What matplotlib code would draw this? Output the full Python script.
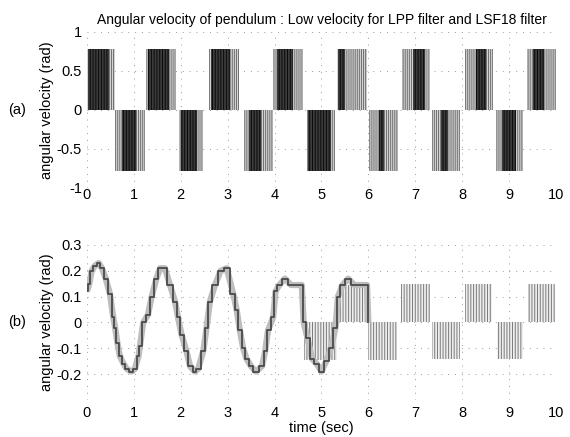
import matplotlib
matplotlib.use("Agg")
import matplotlib.pyplot as plt
import numpy as np

plt.rcParams['font.family'] = ['Liberation Sans', 'DejaVu Sans']
plt.rcParams['hatch.linewidth'] = 0.7

# (a) blocks of the square wave: start, end, level, dark core start/end
top_start = [0.00, 0.59, 1.26, 1.96, 2.60, 3.34, 3.97, 4.69, 5.33, 6.01, 6.72, 7.36, 8.06, 8.72, 9.38]
top_end = [0.59, 1.23, 1.90, 2.48, 3.24, 3.96, 4.60, 5.29, 5.97, 6.63, 7.31, 7.95, 8.66, 9.30, 10.00]
top_level = [0.78, -0.78, 0.78, -0.78, 0.78, -0.78, 0.78, -0.78, 0.78, -0.78, 0.78, -0.78, 0.78, -0.78, 0.78]
core_start = [0.02, 0.75, 1.30, 2.00, 2.65, 3.45, 4.05, 4.72, 5.35, 6.22, 6.95, 7.55, 8.30, 8.85, 9.50]
core_end = [0.48, 1.05, 1.75, 2.35, 3.05, 3.70, 4.40, 5.20, 5.50, 6.33, 7.20, 7.70, 8.50, 9.15, 9.75]

# (b) smoothed curve
curve_t = [0.0, 0.05, 0.1, 0.17, 0.25, 0.32, 0.4, 0.49, 0.56, 0.6, 0.65, 0.70, 0.78, 0.85, 0.95,
           1.02, 1.1, 1.13, 1.2, 1.3, 1.38, 1.48, 1.56, 1.66, 1.77, 1.88, 1.94, 2.02, 2.12, 2.2,
           2.3, 2.37, 2.48, 2.55, 2.62, 2.73, 2.85, 2.98, 3.12, 3.19, 3.26, 3.33, 3.4, 3.5, 3.6,
           3.73, 3.8, 3.86, 3.97, 4.02, 4.1, 4.22, 4.35, 4.58, 4.62, 4.7, 4.8, 4.9, 5.0, 5.1,
           5.2, 5.3, 5.35, 5.45, 5.57, 5.7, 5.97, 6.0]
curve_v = [0.12, 0.15, 0.20, 0.22, 0.23, 0.21, 0.17, 0.11, 0.02, -0.02, -0.08, -0.13, -0.16, -0.18, -0.19,
           -0.18, -0.13, -0.09, 0.0, 0.03, 0.10, 0.17, 0.21, 0.21, 0.145, 0.08, 0.02, -0.05, -0.11, -0.17,
           -0.19, -0.18, -0.11, -0.02, 0.08, 0.145, 0.20, 0.21, 0.11, 0.05, -0.03, -0.10, -0.14, -0.17, -0.19,
           -0.17, -0.11, -0.03, 0.02, 0.12, 0.145, 0.17, 0.145, 0.145, 0.0, -0.06, -0.14, -0.16, -0.19, -0.15,
           -0.10, -0.02, 0.10, 0.145, 0.17, 0.145, 0.145, 0.0]

# (b) later blocks of vertical lines
bot_start = [4.62, 5.35, 6.00, 6.70, 7.35, 8.06, 8.74, 9.40]
bot_end = [5.33, 5.97, 6.62, 7.31, 7.95, 8.63, 9.30, 9.98]
bot_level = [-0.145, 0.145, -0.145, 0.15, -0.14, 0.15, -0.14, 0.15]

fig = plt.figure(figsize=(5.7, 4.37), dpi=100)
ax1 = fig.add_axes([0.1526, 0.5698, 0.8228, 0.357])
ax2 = fig.add_axes([0.1526, 0.0847, 0.8228, 0.3547])

w = np.array(top_end) - np.array(top_start)
ax1.bar(top_start, top_level, width=w, align='edge', color='#d4d4d4',
        edgecolor='#6e6e6e', hatch='||||||||', linewidth=0)
cw = np.array(core_end) - np.array(core_start)
ax1.bar(core_start, top_level, width=cw, align='edge', color='#3c3c3c',
        edgecolor='#0a0a0a', hatch='||||||', linewidth=0)

bw = np.array(bot_end) - np.array(bot_start)
ax2.bar(bot_start, bot_level, width=bw, align='edge', color='#eeeeee',
        edgecolor='#7a7a7a', hatch='||||||', linewidth=0)
ax2.plot(curve_t, curve_v, color='#bdbdbd', linewidth=4.5, solid_capstyle='butt')
ax2.plot(curve_t, curve_v, color='#4a4a4a', linewidth=1.3, drawstyle='steps-mid')

for ax in (ax1, ax2):
    ax.set_xlim(0, 10)
    ax.set_xticks(range(0, 11))
    for s in ax.spines.values():
        s.set_visible(False)
    ax.grid(True, color='#9a9a9a', linestyle=(0, (1, 6)), linewidth=0.7)
    ax.set_axisbelow(True)
    ax.tick_params(length=0, labelsize=10.5)
    ax.set_ylabel('angular velocity (rad)', fontsize=10.5, labelpad=2)

ax1.set_ylim(-1, 1)
ax1.set_yticks([-1, -0.5, 0, 0.5, 1])
ax1.set_yticklabels(['-1', '-0.5', '0', '0.5', '1'])
ax1.tick_params(axis='x', pad=0)
ax1.set_title('Angular velocity of pendulum : Low velocity for LPP filter and LSF18 filter',
              fontsize=10, pad=6)

ax2.set_ylim(-0.3, 0.3)
ax2.set_yticks([-0.3, -0.2, -0.1, 0, 0.1, 0.2, 0.3])
ax2.set_yticklabels(['', '-0.2', '-0.1', '0', '0.1', '0.2', '0.3'])
ax2.tick_params(axis='x', pad=4)
ax2.set_xlabel('time (sec)', fontsize=10.5, labelpad=1)

fig.text(0.014, 1 - 110 / 437, '(a)', fontsize=10.5, va='center')
fig.text(0.014, 1 - 322 / 437, '(b)', fontsize=10.5, va='center')

fig.savefig('out.png', dpi=100)
